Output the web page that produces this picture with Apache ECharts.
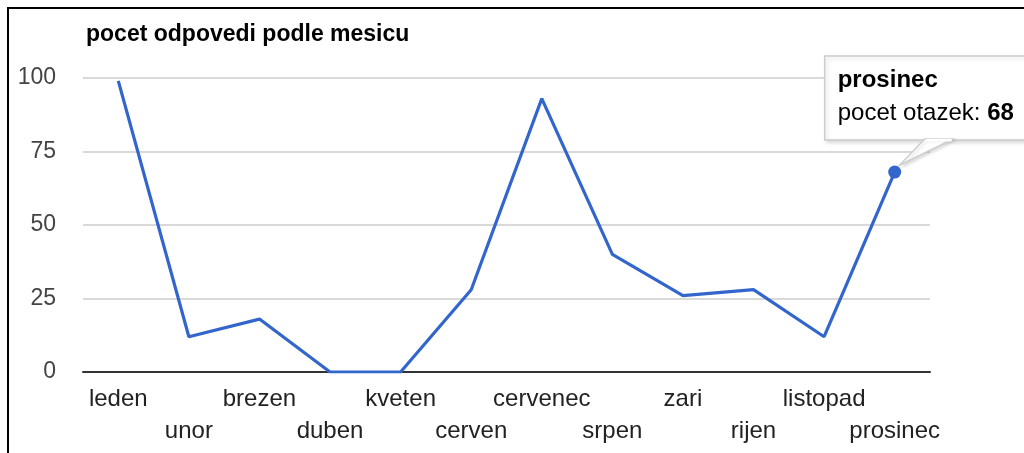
<!DOCTYPE html>
<html>
<head>
<meta charset="utf-8">
<script src="https://cdn.jsdelivr.net/npm/echarts@6/dist/echarts.min.js"></script>
<style>
  html, body { margin: 0; padding: 0; background: #fff; }
  #main { width: 1024px; height: 453px; }
</style>
</head>
<body>
<div id="main"></div>
<script>
// data
var months = ['leden', 'unor', 'brezen', 'duben', 'kveten', 'cerven',
  'cervenec', 'srpen', 'zari', 'rijen', 'listopad', 'prosinec'];
var counts = [99, 12, 18, 0, 0, 28, 93, 40, 26, 28, 12, 68];
var yTicks = [0, 25, 50, 75, 100];
var seriesName = 'pocet otazek';
var hiIndex = 11; // bod s tooltipem

var font = 'Arial, "Liberation Sans", sans-serif';
var chart = echarts.init(document.getElementById('main'));

var seriesData = counts.map(function (v, i) {
  if (i === hiIndex) {
    return { value: v, symbol: 'circle', symbolSize: 13 };
  }
  return v;
});

var option = {
  animation: false,
  title: {
    text: 'pocet odpovedi podle mesicu',
    left: 81,
    top: 18,
    textStyle: { fontFamily: font, fontSize: 23, fontWeight: 'bold', color: '#000' }
  },
  grid: { left: 83, right: 94, top: 78, bottom: 81 },
  xAxis: {
    type: 'category',
    data: months,
    boundaryGap: true,
    axisTick: { show: false },
    axisLine: { lineStyle: { color: '#333', width: 2 } },
    axisLabel: {
      interval: 0,
      margin: 11,
      fontFamily: font,
      fontSize: 24,
      lineHeight: 32,
      color: '#222',
      formatter: function (val, idx) {
        return idx % 2 === 1 ? '\n' + val : val;
      }
    },
    splitLine: { show: false }
  },
  yAxis: {
    type: 'value',
    min: yTicks[0],
    max: yTicks[yTicks.length - 1],
    interval: 25,
    axisLine: { show: false },
    axisTick: { show: false },
    axisLabel: { margin: 27, fontFamily: font, fontSize: 23, color: '#444' },
    splitLine: { lineStyle: { color: '#ccc', width: 1.5 } }
  },
  series: [{
    name: seriesName,
    type: 'line',
    data: seriesData,
    symbol: 'none',
    lineStyle: { color: '#3366cc', width: 3.2 },
    itemStyle: { color: '#3366cc' },
    z: 3
  }]
};
chart.setOption(option);

/* ramecek + tooltip */
var p = chart.convertToPixel({ seriesIndex: 0 }, [hiIndex, counts[hiIndex]]);
var bx = p[0] - 70, by = p[1] - 116, bw = 210, bh = 84;
chart.setOption({
  graphic: [
    { type: 'line', shape: { x1: 8, y1: 7, x2: 8, y2: 453 }, style: { stroke: '#000', lineWidth: 2 }, z: 10 },
    { type: 'line', shape: { x1: 7, y1: 8, x2: 1024, y2: 8 }, style: { stroke: '#000', lineWidth: 2 }, z: 10 },
    {
      type: 'group', z: 20,
      children: [
        { type: 'rect', shape: { x: bx, y: by, width: bw, height: bh },
          style: { fill: '#fff', stroke: '#ccc', lineWidth: 1.5,
            shadowBlur: 4, shadowOffsetX: 2, shadowOffsetY: 2, shadowColor: 'rgba(0,0,0,0.15)' } },
        { type: 'polygon', shape: { points: [[bx + 100, by + bh - 1], [bx + 128, by + bh - 1], [p[0] + 5, p[1] - 7]] },
          style: { fill: '#fff', stroke: '#ccc', lineWidth: 1.5,
            shadowBlur: 3, shadowOffsetX: 2, shadowOffsetY: 2, shadowColor: 'rgba(0,0,0,0.12)' } },
        { type: 'line', shape: { x1: bx + 101, y1: by + bh, x2: bx + 127, y2: by + bh },
          style: { stroke: '#fff', lineWidth: 2.5 } },
        { type: 'text', x: bx + 13, y: by + 12,
          style: { text: months[hiIndex], font: 'bold 24px ' + font, fill: '#000' } },
        { type: 'text', x: bx + 13, y: by + 45,
          style: {
            text: '{n|' + seriesName + ': }{b|' + counts[hiIndex] + '}',
            rich: {
              n: { fontFamily: font, fontSize: 24, color: '#000' },
              b: { fontFamily: font, fontSize: 24, fontWeight: 'bold', color: '#000' }
            }
          } }
      ]
    }
  ]
});
</script>
</body>
</html>
